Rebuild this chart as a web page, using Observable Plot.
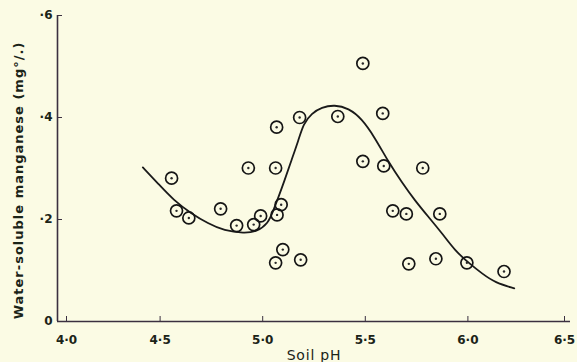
<!DOCTYPE html>
<html>
<head>
<meta charset="utf-8">
<script src="https://cdn.jsdelivr.net/npm/d3@7"></script>
<script src="https://cdn.jsdelivr.net/npm/@observablehq/plot@0.6"></script>
<style>
  html, body { margin: 0; padding: 0; background: #fbfbe4; }
  #chart svg { display: block; background: #fbfbe4; }
</style>
</head>
<body>
<div id="chart"></div>
<script>
// Observed data points: soil pH vs water-soluble manganese (mg%)
const soilPH = [4.556, 4.58, 4.64, 4.795, 4.873, 4.93, 4.956, 4.99, 5.063, 5.068, 5.07, 5.09, 5.098, 5.063,
                5.18, 5.185, 5.366, 5.488, 5.488, 5.585, 5.59, 5.634, 5.70, 5.78, 5.712, 5.844, 5.863, 5.995, 6.176];
const manganese = [0.281, 0.217, 0.203, 0.221, 0.188, 0.301, 0.19, 0.207, 0.301, 0.381, 0.209, 0.229, 0.141, 0.115,
                   0.40, 0.121, 0.402, 0.506, 0.314, 0.408, 0.305, 0.217, 0.211, 0.301, 0.113, 0.123, 0.211, 0.115, 0.098];

// Fitted smooth curve
const curvePH = [4.416, 4.489, 4.568, 4.651, 4.734, 4.812, 4.910, 4.969, 5.027, 5.052, 5.076, 5.106, 5.140, 5.174,
                 5.199, 5.238, 5.287, 5.350, 5.419, 5.482, 5.546, 5.614, 5.678, 5.742, 5.810, 5.874, 5.937, 6.006,
                 6.069, 6.133, 6.226];
const curveMn = [0.302, 0.271, 0.237, 0.212, 0.192, 0.178, 0.173, 0.176, 0.192, 0.218, 0.243, 0.276, 0.316, 0.355,
                 0.388, 0.408, 0.420, 0.425, 0.418, 0.398, 0.361, 0.312, 0.273, 0.237, 0.204, 0.173, 0.139, 0.114,
                 0.094, 0.076, 0.065];

// Tick values and labels
const xTicks = [4.0, 4.5, 5.0, 5.5, 6.0, 6.5];
const xTickLabels = ["4·0", "4·5", "5·0", "5·5", "6·0", "6·5"];
const yTicks = [0, 0.2, 0.4, 0.6];
const yTickLabels = ["0", "·2", "·4", "·6"];

const points = soilPH.map((x, i) => ({x, y: manganese[i]}));
const curve = curvePH.map((x, i) => ({x, y: curveMn[i]}));

const ink = "#1b2418";
const axisInk = "#3b3040";
const font = "DejaVu Sans, sans-serif";
const xFmt = (d) => xTickLabels[xTicks.indexOf(d)];

const xAxisCommon = {
  tickFormat: xFmt,
  tickSize: -5,
  tickPadding: 19,
  stroke: axisInk,
  fontSize: 12,
  fontWeight: "bold",
  fill: ink
};

const chart = Plot.plot({
  width: 577,
  height: 362,
  marginLeft: 57,
  marginRight: 7,
  marginTop: 15,
  marginBottom: 41,
  style: {background: "#fbfbe4", fontFamily: font, color: ink},
  x: {domain: [4.0, 6.5]},
  y: {domain: [0, 0.6]},
  marks: [
    Plot.ruleY([0], {stroke: axisInk, strokeWidth: 1.6}),
    Plot.ruleX([4.0], {stroke: axisInk, strokeWidth: 1.6}),
    Plot.axisX({...xAxisCommon, ticks: xTicks.slice(1, 5),
      label: "Soil pH", labelAnchor: "center", labelArrow: "none", labelOffset: 38}),
    Plot.axisX({...xAxisCommon, ticks: xTicks.slice(0, 1), dx: 9, label: null}),
    Plot.axisX({...xAxisCommon, ticks: xTicks.slice(5), dx: -6, label: null}),
    Plot.axisY({
      ticks: yTicks,
      tickFormat: (d) => yTickLabels[yTicks.indexOf(d)],
      tickSize: -5,
      tickPadding: 10,
      stroke: axisInk,
      fontSize: 12,
      fontWeight: "bold",
      fill: ink,
      label: "Water-soluble manganese (mg°/.)",
      labelAnchor: "center",
      labelArrow: "none",
      labelOffset: 44
    }),
    Plot.line(curve, {x: "x", y: "y", curve: "basis", stroke: "#1a1a1a", strokeWidth: 1.8}),
    Plot.dot(points, {x: "x", y: "y", r: 6, stroke: "#151515", strokeWidth: 1.7, fill: "none"}),
    Plot.dot(points, {x: "x", y: "y", r: 1.2, fill: "#2a2a2a", stroke: "none"})
  ]
});

// style axis labels
d3.select(chart).selectAll("g[aria-label='x-axis label'] text")
  .style("font-size", "14px").style("font-weight", "normal").style("letter-spacing", "0.8px");
d3.select(chart).selectAll("g[aria-label='y-axis label'] text")
  .style("font-size", "13px").style("font-weight", "bold").style("letter-spacing", "1px")
  .attr("dx", -12);

document.getElementById("chart").appendChild(chart);
</script>
</body>
</html>
